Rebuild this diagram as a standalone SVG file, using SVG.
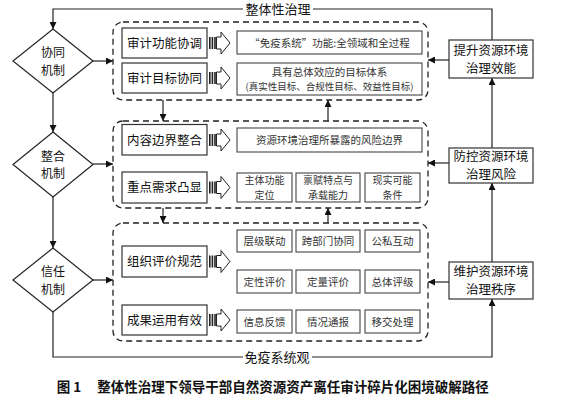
<svg xmlns="http://www.w3.org/2000/svg" width="561" height="403" viewBox="0 0 561 403">
<defs>
<marker id="ah" viewBox="0 0 10 10" refX="10" refY="5" markerWidth="7" markerHeight="7" orient="auto-start-reverse" markerUnits="userSpaceOnUse">
<path d="M0,0 L10,5 L0,10 z" fill="#111"/>
</marker>
<g id="barrow">
<rect x="0" y="-6" width="1.6" height="12" fill="#222"/>
<rect x="2.6" y="-6" width="1.6" height="12" fill="#222"/>
<rect x="5.2" y="-6" width="1.6" height="12" fill="#222"/>
<path d="M7.5,-6 L12,-6 L12,-11 L21,0 L12,11 L12,6 L7.5,6 z" fill="#fff" stroke="#222" stroke-width="1"/>
</g>
</defs>
<style>
text{font-family:"Noto Sans CJK SC","Liberation Sans",sans-serif;fill:#111;text-anchor:middle;}
.d{fill:#fff;stroke:#222;stroke-width:1.2;}
.b{fill:#fff;stroke:#333;stroke-width:1.2;}
.s{fill:#fff;stroke:#444;stroke-width:1.1;}
.c{fill:none;stroke:#222;stroke-width:1.3;stroke-dasharray:6,4;}
.l{fill:none;stroke:#222;stroke-width:1.2;}
.t13{font-size:13px;}
.dm{font-size:12px;}
.rb{font-size:12.5px;}
.t12{font-size:12.5px;}
.t10{font-size:10.5px;fill:#333;}
.sm{font-size:10px;fill:#333;}
.t9{font-size:9.5px;fill:#333;}
.cap{font-size:13.5px;font-weight:bold;}
</style>
<rect width="561" height="403" fill="#fff"/>

<g id="connectors">
<path class="l" d="M243,9 H53 V29" marker-end="url(#ah)"/>
<path class="l" d="M313,9 H492 V40"/>
<path class="l" d="M53,93 V132" marker-end="url(#ah)"/>
<path class="l" d="M53,197 V248" marker-end="url(#ah)"/>
<path class="l" d="M53,312 V357 H243"/>
<path class="l" d="M312,357 H492 V299" marker-end="url(#ah)"/>
<path class="l" d="M492,148 V78" marker-end="url(#ah)"/>
<path class="l" d="M492,262 V183" marker-end="url(#ah)"/>
<path class="l" d="M93,61 H113" marker-end="url(#ah)"/>
<path class="l" d="M93,164 H113" marker-end="url(#ah)"/>
<path class="l" d="M93,280 H113" marker-end="url(#ah)"/>
<path class="l" d="M449,60 H428" marker-end="url(#ah)"/>
<path class="l" d="M449,163 H428" marker-end="url(#ah)"/>
<path class="l" d="M449,282 H428" marker-end="url(#ah)"/>
<path class="l" d="M163,100 V121" marker-end="url(#ah)"/>
<path class="l" d="M163,208 V223" marker-end="url(#ah)"/>
<path class="l" d="M328,121 V100" marker-end="url(#ah)"/>
<path class="l" d="M328,223 V208" marker-end="url(#ah)"/>
<text class="t13" x="278" y="13.5">整体性治理</text>
<text class="t13" x="277" y="361.5">免疫系统观</text>
</g>

<g id="diamond1"><path class="d" d="M53,29 L93,61 L53,93 L13,61 z"/><text class="dm"><tspan x="53" y="57">协同</tspan><tspan x="53" dy="17.5">机制</tspan></text></g>
<g id="diamond2"><path class="d" d="M53,132 L93,164.5 L53,197 L13,164.5 z"/><text class="dm"><tspan x="53" y="160.5">整合</tspan><tspan x="53" dy="17.5">机制</tspan></text></g>
<g id="diamond3"><path class="d" d="M53,248 L93,280 L53,312 L13,280 z"/><text class="dm"><tspan x="53" y="276">信任</tspan><tspan x="53" dy="17.5">机制</tspan></text></g>

<g id="container1">
<rect class="c" x="113" y="22" width="315" height="78" rx="10"/>
<g id="n-audit-func"><rect class="b" x="122" y="28" width="85" height="30"/><text class="t12" x="164.5" y="47.5">审计功能协调</text></g>
<g id="n-audit-goal"><rect class="b" x="122" y="63" width="85" height="30"/><text class="t12" x="164.5" y="82.5">审计目标协同</text></g>
<use href="#barrow" x="209" y="43"/>
<use href="#barrow" x="209" y="78"/>
<g id="n-immune"><rect class="s" x="237" y="31" width="185" height="23"/><text class="t10" x="329.5" y="46.5">“免疫系统”功能:全领域和全过程</text></g>
<g id="n-goalsys"><rect class="s" x="237" y="63" width="185" height="32"/><text class="t10"><tspan x="329.5" y="75.7">具有总体效应的目标体系</tspan><tspan class="t9" x="329.5" dy="14.6">(真实性目标、合规性目标、效益性目标)</tspan></text></g>
</g>

<g id="container2">
<rect class="c" x="113" y="121" width="315" height="87" rx="10"/>
<g id="n-content"><rect class="b" x="122" y="124.5" width="85" height="30.5"/><text class="t12" x="164.5" y="144.5">内容边界整合</text></g>
<g id="n-focus"><rect class="b" x="122" y="172" width="85" height="31"/><text class="t12" x="164.5" y="192">重点需求凸显</text></g>
<use href="#barrow" x="209" y="140"/>
<use href="#barrow" x="209" y="187.5"/>
<g id="n-risk"><rect class="s" x="237" y="128" width="185" height="24"/><text class="t10" x="329.5" y="144">资源环境治理所暴露的风险边界</text></g>
<g id="n-subj"><rect class="s" x="237" y="173" width="55" height="29"/><text class="sm"><tspan x="264.5" y="184">主体功能</tspan><tspan x="264.5" dy="14.6">定位</tspan></text></g>
<g id="n-endow"><rect class="s" x="296" y="173" width="64" height="29"/><text class="sm"><tspan x="328" y="184">禀赋特点与</tspan><tspan x="328" dy="14.6">承载能力</tspan></text></g>
<g id="n-real"><rect class="s" x="365" y="173" width="55" height="29"/><text class="sm"><tspan x="392.5" y="184">现实可能</tspan><tspan x="392.5" dy="14.6">条件</tspan></text></g>
</g>

<g id="container3">
<rect class="c" x="113" y="223" width="315" height="118" rx="10"/>
<g id="n-org"><rect class="b" x="122" y="246" width="85" height="31"/><text class="t12" x="164.5" y="266">组织评价规范</text></g>
<g id="n-result"><rect class="b" x="122" y="305" width="85" height="30"/><text class="t12" x="164.5" y="324.5">成果运用有效</text></g>
<use href="#barrow" x="209" y="261.5"/>
<use href="#barrow" x="209" y="320"/>
<g id="n-r1a"><rect class="s" x="237" y="230" width="55" height="22"/><text class="t10" x="264.5" y="245">层级联动</text></g>
<g id="n-r1b"><rect class="s" x="296" y="230" width="64" height="22"/><text class="t10" x="328" y="245">跨部门协同</text></g>
<g id="n-r1c"><rect class="s" x="365" y="230" width="55" height="22"/><text class="t10" x="392.5" y="245">公私互动</text></g>
<g id="n-r2a"><rect class="s" x="237" y="270" width="55" height="23"/><text class="t10" x="264.5" y="285.5">定性评价</text></g>
<g id="n-r2b"><rect class="s" x="296" y="270" width="64" height="23"/><text class="t10" x="328" y="285.5">定量评价</text></g>
<g id="n-r2c"><rect class="s" x="365" y="270" width="55" height="23"/><text class="t10" x="392.5" y="285.5">总体评级</text></g>
<g id="n-r3a"><rect class="s" x="237" y="310" width="55" height="23"/><text class="t10" x="264.5" y="325.5">信息反馈</text></g>
<g id="n-r3b"><rect class="s" x="296" y="310" width="64" height="23"/><text class="t10" x="328" y="325.5">情况通报</text></g>
<g id="n-r3c"><rect class="s" x="365" y="310" width="55" height="23"/><text class="t10" x="392.5" y="325.5">移交处理</text></g>
</g>

<g id="right1"><rect class="b" x="449" y="40" width="84" height="38"/><text class="rb"><tspan x="491" y="54.7">提升资源环境</tspan><tspan x="491" dy="18.2">治理效能</tspan></text></g>
<g id="right2"><rect class="b" x="449" y="148" width="84" height="35"/><text class="rb"><tspan x="491" y="161.2">防控资源环境</tspan><tspan x="491" dy="18.2">治理风险</tspan></text></g>
<g id="right3"><rect class="b" x="449" y="262" width="84" height="37"/><text class="rb"><tspan x="491" y="276.2">维护资源环境</tspan><tspan x="491" dy="18.2">治理秩序</tspan></text></g>

<g id="caption">
<text class="cap" x="69" y="392">图 1</text>
<text class="cap" x="293" y="392">整体性治理下领导干部自然资源资产离任审计碎片化困境破解路径</text>
</g>
</svg>
